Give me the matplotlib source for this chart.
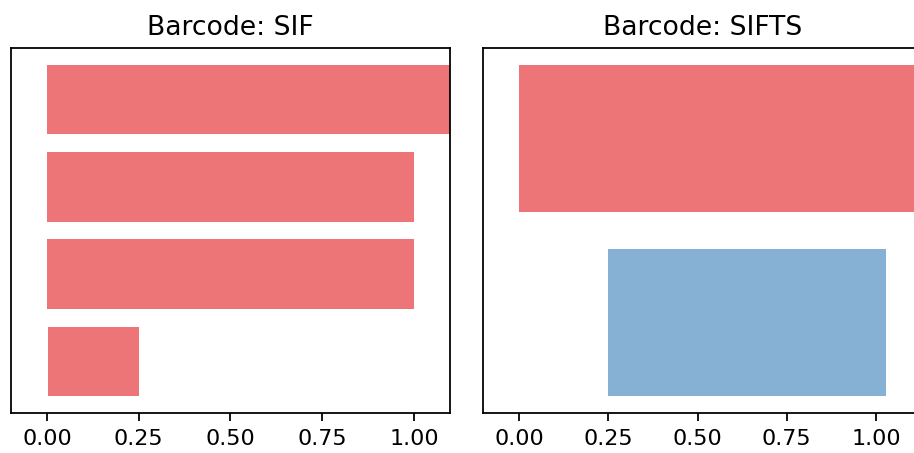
import numpy as np
import matplotlib.pyplot as plt

# persistence intervals (birth, death); np.inf = never dies
sif_birth = [0.0, 0.0, 0.0, 0.003]
sif_death = [np.inf, 1.0, 1.0, 0.25]
sif_dim = [0, 0, 0, 0]

sifts_birth = [0.0, 0.25]
sifts_death = [np.inf, 1.028]
sifts_dim = [0, 1]

ticks = [0.0, 0.25, 0.5, 0.75, 1.0]

# Set1 red / blue, faded
dim_colors = {0: '#e41a1c', 1: '#377eb8'}
INF_CAP = 5.0

DPI = 160
fig = plt.figure(figsize=(914 / DPI, 453 / DPI), dpi=DPI)
ax1 = fig.add_axes([11 / 914, 40 / 453, 439 / 914, 365 / 453])
ax2 = fig.add_axes([483 / 914, 40 / 453, 439 / 914, 365 / 453])


def draw_barcode(ax, birth, death, dims, title, xlim):
    n = len(birth)
    ys = np.arange(n)[::-1]
    for y, b, d, k in zip(ys, birth, death, dims):
        d = INF_CAP if np.isinf(d) else d
        ax.barh(y, d - b, left=b, height=0.8, color=dim_colors[k], alpha=0.6,
                linewidth=0)
    ax.set_xlim(*xlim)
    ax.set_xticks(ticks)
    ax.set_yticks([])
    ax.set_title(title, fontsize=12)
    ax.tick_params(labelsize=10)


draw_barcode(ax1, sif_birth, sif_death, sif_dim, 'Barcode: SIF', (-0.098, 1.098))
draw_barcode(ax2, sifts_birth, sifts_death, sifts_dim, 'Barcode: SIFTS', (-0.101, 1.129))

fig.savefig('out.png', dpi=DPI)
